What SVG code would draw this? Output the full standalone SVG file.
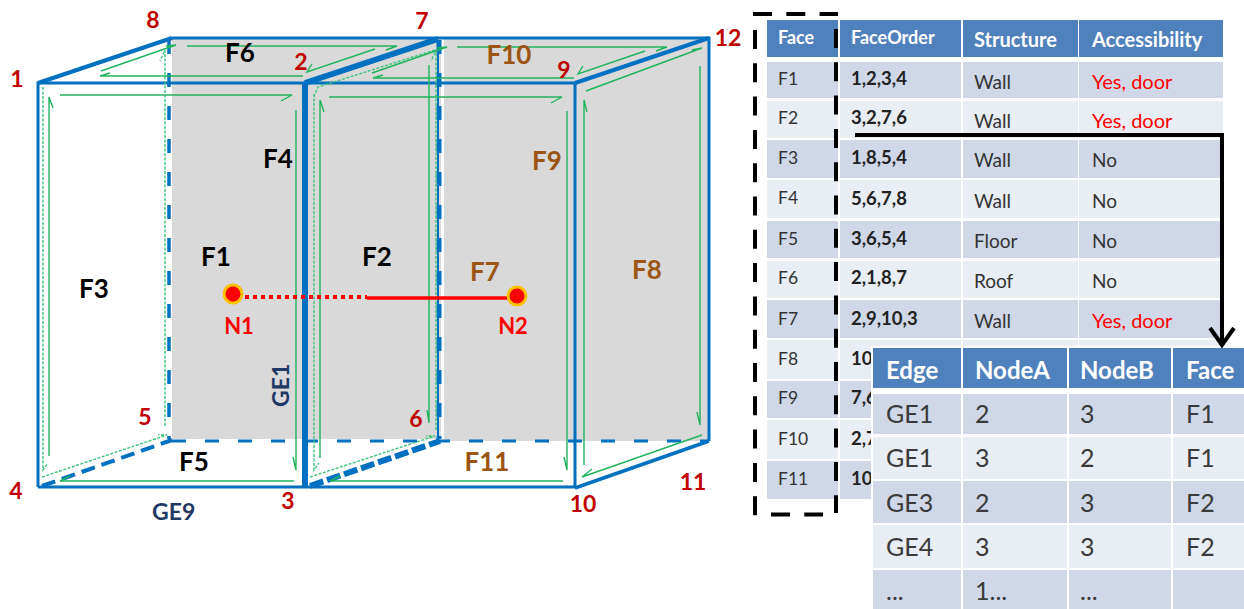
<svg xmlns="http://www.w3.org/2000/svg" width="1244" height="609" viewBox="0 0 1244 609">
<style>
text{font-family:Lato,"Liberation Sans",sans-serif}
.b{stroke:#0070c0;fill:none;stroke-width:3}
.g{stroke:#1fb45c;fill:none;stroke-width:1.4}
.d{stroke:#3cc47c;fill:none;stroke-width:1.4;stroke-dasharray:3 1.5}
.n{fill:#c00000;font-weight:700;font-size:23px;text-anchor:middle}
.f{font-weight:700;font-size:26px;text-anchor:middle}
.k{fill:#000}.o{fill:#9c5514}
.e{fill:#1f3864;font-weight:700;font-size:23px}
.r{fill:#f00;font-weight:700;font-size:22px;text-anchor:middle}
.h{fill:#4f81bd}.a{fill:#d0d8e8}.l{fill:#e9edf4}
.t1{font-size:17.5px;fill:#333}
.t1h{font-size:18px;fill:#fff;font-weight:700}
.t1i{font-size:20px;fill:#fff;font-weight:700}
.t1b{font-size:18.5px;fill:#222;font-weight:700}
.t1y{font-size:20px;fill:#f00}
.t1s{font-size:19px;fill:#333}
.t2h{font-size:24px;fill:#fff;font-weight:700}
.t2{font-size:25px;fill:#3a3a3a}
.s{fill:none;stroke:#000;stroke-width:4;stroke-dasharray:19 14.3}
</style>
<g id="walls">
<rect x="172" y="38" width="269" height="401" fill="#d9d9d9"/>
<rect x="444" y="38" width="265" height="403" fill="#d9d9d9"/>
</g>
<g id="edges">
<path class="b" d="M172 38H709V441M38 487V83H575V488M38 487H575"/>
<path class="b" style="stroke-width:4" d="M38 83L172 38M575 83L709 38"/>
<path class="b" style="stroke-width:3.5" d="M575 488L709 441"/>
<path class="b" style="stroke-width:6" d="M305 83V487M305 83L438 39"/>
<path class="b" style="stroke-width:4;stroke-dasharray:14 7" d="M42 486L172 440"/>
<path class="b" style="stroke-width:6;stroke-dasharray:14 4" d="M310 486L440 441"/>
<path class="b" style="stroke-width:3;stroke-dasharray:14 19" d="M172 441H709"/>
<path class="b" style="stroke-width:3.5;stroke-dasharray:14 19" d="M169 40V439"/>
<path class="b" style="stroke-width:5;stroke-dasharray:14 19" d="M439 40V439"/>
<path class="b" style="stroke-width:2" d="M438 40V439"/>
</g>
<g id="face-arrows">
<path class="g" d="M60 95H292L281 101"/>
<path class="g" d="M296 110V470L293 457"/>
<path class="g" d="M294 481H60L70 476"/>
<path class="g" d="M49 456V97L53 108"/>
<path class="d" d="M43 87V470L48 463"/>
<path class="d" d="M42 477L167 435L158 435"/>
<path class="d" d="M165 426V50L160 61"/>
<path class="g" d="M187 46H397L386 50"/>
<path class="g" d="M375 49L307 72L312 64"/>
<path class="g" d="M303 76H100L110 73"/>
<path class="g" d="M101 71L176 45L166 46"/>
<path class="g" d="M329 97H562L551 103"/>
<path class="g" d="M567 111V470L564 457"/>
<path class="g" d="M563 481H330L340 476"/>
<path class="g" d="M320 458V100L324 112"/>
<path class="d" d="M314 94V470L319 463"/>
<path class="d" d="M310 477L435 436L426 436"/>
<path class="d" d="M436 430V50L431 61"/>
<path class="d" d="M435 50L318 87L314 96"/>
<path class="g" d="M429 65V423L427 410"/>
<path class="g" d="M457 47H667L656 51"/>
<path class="g" d="M645 51L578 74L583 66"/>
<path class="g" d="M574 78H373L383 75"/>
<path class="g" d="M372 73L447 47L437 48"/>
<path class="g" d="M586 91L702 48L692 50"/>
<path class="g" d="M700 66V425L697 412"/>
<path class="g" d="M702 435L582 477L592 469"/>
<path class="g" d="M584 465V100L587 112"/>
</g>
<g id="route">
<path d="M245 297H367" stroke="#f00" stroke-width="4" stroke-dasharray="4 4" fill="none"/>
<path d="M367 298H510" stroke="#f00" stroke-width="3.5" fill="none"/>
</g>
<g id="N1"><circle cx="233" cy="294" r="9" fill="#f00" stroke="#ffc000" stroke-width="3"/><text class="r" x="239" y="334">N1</text></g>
<g id="N2"><circle cx="517" cy="296" r="9" fill="#f00" stroke="#ffc000" stroke-width="3"/><text class="r" x="513" y="334">N2</text></g>
<g id="vertex-labels">
<text class="n" x="17" y="87">1</text><text class="n" x="301" y="70">2</text><text class="n" x="288" y="509">3</text><text class="n" x="16" y="499">4</text>
<text class="n" x="145" y="425">5</text><text class="n" x="416" y="427">6</text><text class="n" x="422" y="29">7</text><text class="n" x="153" y="28">8</text>
<text class="n" x="564" y="78">9</text><text class="n" x="583" y="512">10</text><text class="n" x="693" y="490">11</text><text class="n" x="728" y="46">12</text>
</g>
<g id="face-labels">
<text class="f k" x="240" y="62">F6</text><text class="f k" x="278" y="168">F4</text><text class="f k" x="216" y="266">F1</text><text class="f k" x="377" y="266">F2</text>
<text class="f k" x="94" y="298">F3</text><text class="f k" x="194" y="471">F5</text>
<text class="f o" x="509" y="64">F10</text><text class="f o" x="547" y="170">F9</text><text class="f o" x="485" y="281">F7</text><text class="f o" x="647" y="279">F8</text><text class="f o" x="487" y="471">F11</text>
<text class="e" x="152" y="520">GE9</text>
<text class="e" transform="translate(289 407) rotate(-90)">GE1</text>
</g>
<g id="face-table">
<rect class="h" x="767" y="20" width="71" height="37"/><rect class="h" x="840" y="20" width="121" height="37"/><rect class="h" x="963" y="20" width="115" height="37"/><rect class="h" x="1079" y="20" width="144" height="37"/>
<g class="a"><rect x="767" y="62" width="71" height="36"/><rect x="840" y="62" width="121" height="36"/><rect x="963" y="62" width="115" height="36"/><rect x="1079" y="62" width="144" height="36"/></g>
<g class="l"><rect x="767" y="101" width="71" height="37"/><rect x="840" y="101" width="121" height="37"/><rect x="963" y="101" width="115" height="37"/><rect x="1079" y="101" width="144" height="37"/></g>
<g class="a"><rect x="767" y="140" width="71" height="38"/><rect x="840" y="140" width="121" height="38"/><rect x="963" y="140" width="115" height="38"/><rect x="1079" y="140" width="144" height="38"/></g>
<g class="l"><rect x="767" y="180" width="71" height="38"/><rect x="840" y="180" width="121" height="38"/><rect x="963" y="180" width="115" height="38"/><rect x="1079" y="180" width="144" height="38"/></g>
<g class="a"><rect x="767" y="221" width="71" height="37"/><rect x="840" y="221" width="121" height="37"/><rect x="963" y="221" width="115" height="37"/><rect x="1079" y="221" width="144" height="37"/></g>
<g class="l"><rect x="767" y="261" width="71" height="37"/><rect x="840" y="261" width="121" height="37"/><rect x="963" y="261" width="115" height="37"/><rect x="1079" y="261" width="144" height="37"/></g>
<g class="a"><rect x="767" y="300" width="71" height="38"/><rect x="840" y="300" width="121" height="38"/><rect x="963" y="300" width="115" height="38"/><rect x="1079" y="300" width="144" height="38"/></g>
<g class="l"><rect x="767" y="340" width="71" height="39"/><rect x="840" y="340" width="121" height="39"/><rect x="963" y="340" width="115" height="39"/><rect x="1079" y="340" width="144" height="39"/></g>
<g class="a"><rect x="767" y="381" width="71" height="37"/><rect x="840" y="381" width="121" height="37"/></g>
<g class="l"><rect x="767" y="420" width="71" height="39"/><rect x="840" y="420" width="121" height="39"/></g>
<g class="a"><rect x="767" y="461" width="71" height="38"/><rect x="840" y="461" width="121" height="38"/></g>
<text class="t1h" x="778" y="44">Face</text><text class="t1h" x="851" y="44">FaceOrder</text><text class="t1i" x="974" y="47">Structure</text><text class="t1i" x="1092" y="47">Accessibility</text>
<text class="t1" x="778" y="85">F1</text><text class="t1b" x="851" y="85">1,2,3,4</text><text class="t1s" x="974" y="89">Wall</text><text class="t1y" x="1092" y="89">Yes, door</text>
<text class="t1" x="778" y="124">F2</text><text class="t1b" x="851" y="124">3,2,7,6</text><text class="t1s" x="974" y="128">Wall</text><text class="t1y" x="1092" y="128">Yes, door</text>
<text class="t1" x="778" y="164">F3</text><text class="t1b" x="851" y="164">1,8,5,4</text><text class="t1s" x="974" y="167">Wall</text><text class="t1s" x="1092" y="167">No</text>
<text class="t1" x="778" y="204">F4</text><text class="t1b" x="851" y="205">5,6,7,8</text><text class="t1s" x="974" y="208">Wall</text><text class="t1s" x="1092" y="208">No</text>
<text class="t1" x="778" y="245">F5</text><text class="t1b" x="851" y="245">3,6,5,4</text><text class="t1s" x="974" y="248">Floor</text><text class="t1s" x="1092" y="248">No</text>
<text class="t1" x="778" y="284">F6</text><text class="t1b" x="851" y="284">2,1,8,7</text><text class="t1s" x="974" y="288">Roof</text><text class="t1s" x="1092" y="288">No</text>
<text class="t1" x="778" y="325">F7</text><text class="t1b" x="851" y="325">2,9,10,3</text><text class="t1s" x="974" y="328">Wall</text><text class="t1y" x="1092" y="328">Yes, door</text>
<text class="t1" x="778" y="365">F8</text><text class="t1b" x="851" y="365">10</text>
<text class="t1" x="778" y="404">F9</text><text class="t1b" x="851" y="404">7,6</text>
<text class="t1" x="778" y="445">F10</text><text class="t1b" x="851" y="445">2,7</text>
<text class="t1" x="778" y="485">F11</text><text class="t1b" x="851" y="485">10</text>
</g>
<g id="face-selection">
<path class="s" d="M753 14H838"/>
<path class="s" d="M755 30V516"/>
<path class="s" d="M836 29V513"/>
<path class="s" d="M771 514.5H823"/>
</g>
<g id="edge-table">
<rect x="871" y="346" width="373" height="263" fill="#fff"/>
<rect class="h" x="873" y="348" width="88" height="40"/><rect class="h" x="963" y="348" width="104" height="40"/><rect class="h" x="1069" y="348" width="102" height="40"/><rect class="h" x="1173" y="348" width="71" height="40"/>
<g class="a"><rect x="873" y="394" width="88" height="40"/><rect x="963" y="394" width="104" height="40"/><rect x="1069" y="394" width="102" height="40"/><rect x="1173" y="394" width="71" height="40"/></g>
<g class="l"><rect x="873" y="437" width="88" height="42"/><rect x="963" y="437" width="104" height="42"/><rect x="1069" y="437" width="102" height="42"/><rect x="1173" y="437" width="71" height="42"/></g>
<g class="a"><rect x="873" y="481" width="88" height="42"/><rect x="963" y="481" width="104" height="42"/><rect x="1069" y="481" width="102" height="42"/><rect x="1173" y="481" width="71" height="42"/></g>
<g class="l"><rect x="873" y="525" width="88" height="43"/><rect x="963" y="525" width="104" height="43"/><rect x="1069" y="525" width="102" height="43"/><rect x="1173" y="525" width="71" height="43"/></g>
<g class="a"><rect x="873" y="570" width="88" height="39"/><rect x="963" y="570" width="104" height="39"/><rect x="1069" y="570" width="102" height="39"/><rect x="1173" y="570" width="71" height="39"/></g>
<text class="t2h" x="886" y="379">Edge</text><text class="t2h" x="975" y="379">NodeA</text><text class="t2h" x="1080" y="379">NodeB</text><text class="t2h" x="1186" y="379">Face</text>
<text class="t2" x="886" y="423">GE1</text><text class="t2" x="975" y="423">2</text><text class="t2" x="1080" y="423">3</text><text class="t2" x="1186" y="423">F1</text>
<text class="t2" x="886" y="467">GE1</text><text class="t2" x="975" y="467">3</text><text class="t2" x="1080" y="467">2</text><text class="t2" x="1186" y="467">F1</text>
<text class="t2" x="886" y="512">GE3</text><text class="t2" x="975" y="512">2</text><text class="t2" x="1080" y="512">3</text><text class="t2" x="1186" y="512">F2</text>
<text class="t2" x="886" y="556">GE4</text><text class="t2" x="975" y="556">3</text><text class="t2" x="1080" y="556">3</text><text class="t2" x="1186" y="556">F2</text>
<text class="t2" x="886" y="600">...</text><text class="t2" x="975" y="600">1...</text><text class="t2" x="1080" y="600">...</text>
</g>
<g id="table-link">
<path d="M855 135H1222V345" fill="none" stroke="#000" stroke-width="4"/>
<path d="M1210 328L1222 345L1234 328" fill="none" stroke="#000" stroke-width="4"/>
</g>
</svg>
